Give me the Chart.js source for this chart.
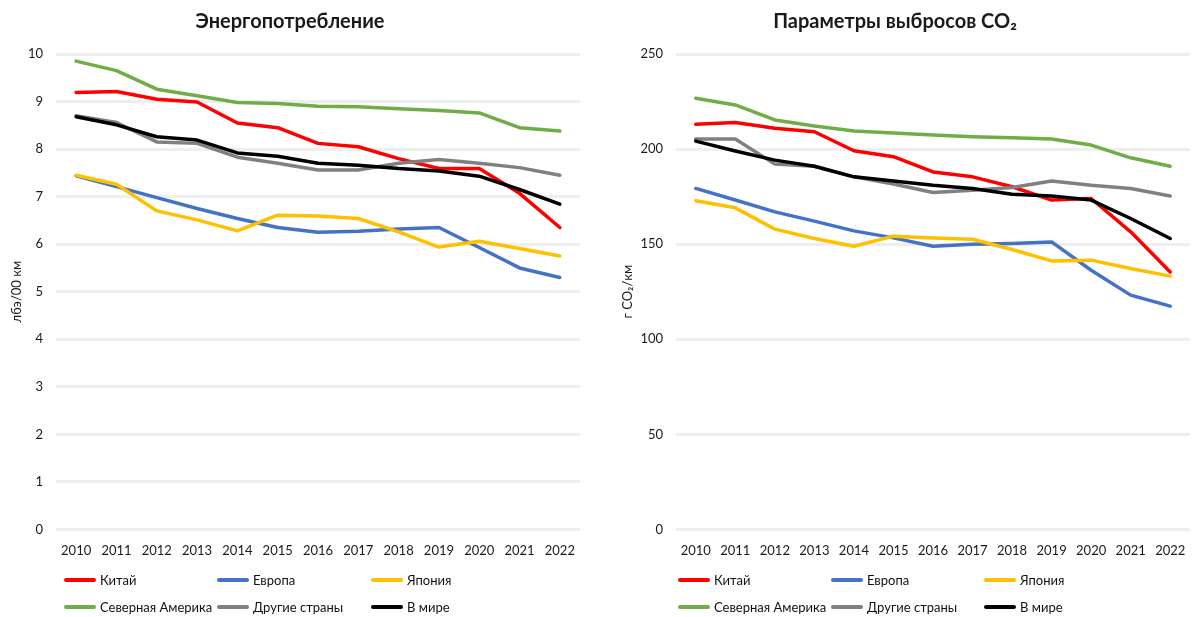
<!DOCTYPE html>
<html>
<head>
<meta charset="utf-8">
<script src="https://cdn.jsdelivr.net/npm/chart.js@4.4.0/dist/chart.umd.min.js"></script>
<style>
  body { margin: 0; background: #fff; font-family: Lato, "Open Sans", sans-serif; }
  #wrap { position: relative; width: 1193px; height: 617px; }
  .panel { position: absolute; top: 0; height: 617px; }
  .legend { position: absolute; top: 570px; font-size: 13px; color: #111; }
  .legend .item { position: absolute; display: flex; align-items: center; white-space: nowrap; height: 20px; }
  .legend .swatch { width: 32px; height: 4px; border-radius: 2px; margin-right: 4px; }
</style>
</head>
<body>
<div id="wrap">
  <div class="panel" style="left:0;width:600px">
    <canvas id="chart_energy" width="600" height="617"></canvas>
    <div class="legend" id="legend_energy" style="left:64px"></div>
  </div>
  <div class="panel" style="left:600px;width:593px">
    <canvas id="chart_co2" width="593" height="617"></canvas>
    <div class="legend" id="legend_co2" style="left:78px"></div>
  </div>
</div>
<script>
const YEARS = ["2010", "2011", "2012", "2013", "2014", "2015", "2016", "2017", "2018", "2019", "2020", "2021", "2022"];
const SERIES_NAMES = ["Китай", "Европа", "Япония", "Северная Америка", "Другие страны", "В мире"];
const SERIES_COLORS = ["#FF0000", "#4472C4", "#FFC000", "#70AD47", "#808080", "#000000"];

// Энергопотребление, лбэ/100 км
const energyChina = [9.19, 9.21, 9.05, 8.99, 8.55, 8.45, 8.12, 8.05, 7.80, 7.59, 7.59, 7.07, 6.35];
const energyEurope = [7.44, 7.21, 6.98, 6.75, 6.54, 6.35, 6.25, 6.27, 6.32, 6.35, 5.93, 5.50, 5.30];
const energyJapan = [7.45, 7.26, 6.70, 6.51, 6.28, 6.61, 6.59, 6.54, 6.26, 5.94, 6.06, 5.91, 5.75];
const energyNorthAmerica = [9.85, 9.65, 9.26, 9.12, 8.98, 8.96, 8.90, 8.89, 8.85, 8.81, 8.76, 8.45, 8.38];
const energyOther = [8.70, 8.56, 8.15, 8.12, 7.83, 7.70, 7.56, 7.56, 7.70, 7.78, 7.70, 7.61, 7.45];
const energyWorld = [8.68, 8.51, 8.26, 8.19, 7.92, 7.85, 7.70, 7.66, 7.59, 7.54, 7.43, 7.15, 6.84];

// Параметры выбросов CO2, г CO2/км
const co2China = [213.0, 214.0, 210.9, 209.1, 199.1, 196.0, 188.0, 185.4, 180.2, 173.2, 174.0, 156.5, 135.4];
const co2Europe = [179.3, 173.2, 167.0, 162.1, 157.0, 153.3, 148.9, 150.0, 150.4, 151.2, 136.3, 123.2, 117.4];
const co2Japan = [172.8, 169.1, 157.9, 153.0, 148.9, 154.2, 153.3, 152.6, 147.2, 141.2, 141.6, 137.2, 133.2];
const co2NorthAmerica = [226.7, 223.2, 215.3, 212.1, 209.5, 208.4, 207.4, 206.5, 206.0, 205.3, 202.1, 195.4, 191.0];
const co2Other = [205.3, 205.3, 192.1, 191.0, 185.4, 181.6, 177.2, 178.4, 179.8, 183.2, 181.0, 179.3, 175.3];
const co2World = [204.2, 199.0, 194.2, 191.0, 185.4, 183.2, 181.0, 179.3, 176.3, 175.3, 173.2, 163.5, 153.0];

const FONT = "Lato, 'Open Sans', sans-serif";
const TEXT_COLOR = "#1a1a1a";

function getDatasets(values) {
  return values.map(function (data, i) {
    return {
      label: SERIES_NAMES[i],
      data: data,
      borderColor: SERIES_COLORS[i],
      backgroundColor: SERIES_COLORS[i],
      borderWidth: 3.5,
      borderJoinStyle: "round",
      borderCapStyle: "round",
      pointRadius: 0,
      tension: 0,
      order: values.length - 1 - i,
    };
  });
}

function getOptions(title, axisTitle, max, step, yWidth, padRight, titleOffset) {
  return {
    responsive: false,
    animation: false,
    layout: { padding: { left: 0, right: padRight, top: 0, bottom: 52 } },
    plugins: {
      legend: { display: false },
      tooltip: { enabled: false },
      title: {
        display: true,
        text: title,
        color: TEXT_COLOR,
        font: { family: FONT, size: 20, weight: "bold" },
        padding: { top: 10, bottom: 20 },
      },
    },
    scales: {
      x: {
        offset: true,
        grid: { display: false },
        border: { display: false },
        ticks: { color: TEXT_COLOR, font: { family: FONT, size: 13 }, padding: 6, maxRotation: 0 },
      },
      y: {
        min: 0,
        max: max,
        afterFit: function (scale) { scale.width = yWidth; },
        border: { display: false },
        grid: { color: "#efefef", lineWidth: 3, drawTicks: false },
        ticks: { stepSize: step, color: TEXT_COLOR, font: { family: FONT, size: 13 }, padding: 13 },
        title: {
          display: true,
          text: axisTitle,
          color: TEXT_COLOR,
          font: { family: FONT, size: 13 },
          padding: { top: titleOffset, bottom: 0 },
        },
      },
    },
  };
}

function buildLegend(id, columns) {
  const el = document.getElementById(id);
  SERIES_NAMES.forEach(function (name, i) {
    const item = document.createElement("div");
    item.className = "item";
    item.style.left = columns[i % 3] + "px";
    item.style.top = (Math.floor(i / 3) * 27) + "px";
    const swatch = document.createElement("span");
    swatch.className = "swatch";
    swatch.style.background = SERIES_COLORS[i];
    const text = document.createElement("span");
    text.textContent = name;
    item.appendChild(swatch);
    item.appendChild(text);
    el.appendChild(item);
  });
}

function initEnergy() {
  const ctx = document.getElementById("chart_energy");
  const values = [energyChina, energyEurope, energyJapan, energyNorthAmerica, energyOther, energyWorld];
  new Chart(ctx, {
    type: "line",
    data: { labels: YEARS, datasets: getDatasets(values) },
    options: getOptions("Энергопотребление", "лбэ/00 км", 10, 1, 56, 20, 9),
  });
  buildLegend("legend_energy", [0, 153, 307]);
}

function initCo2() {
  const ctx = document.getElementById("chart_co2");
  const values = [co2China, co2Europe, co2Japan, co2NorthAmerica, co2Other, co2World];
  new Chart(ctx, {
    type: "line",
    data: { labels: YEARS, datasets: getDatasets(values) },
    options: getOptions("Параметры выбросов CO₂", "г CO₂/км", 250, 50, 76, 3, 20),
  });
  buildLegend("legend_co2", [0, 153, 306]);
}

window.onload = function () {
  initEnergy();
  initCo2();
};
</script>
</body>
</html>
